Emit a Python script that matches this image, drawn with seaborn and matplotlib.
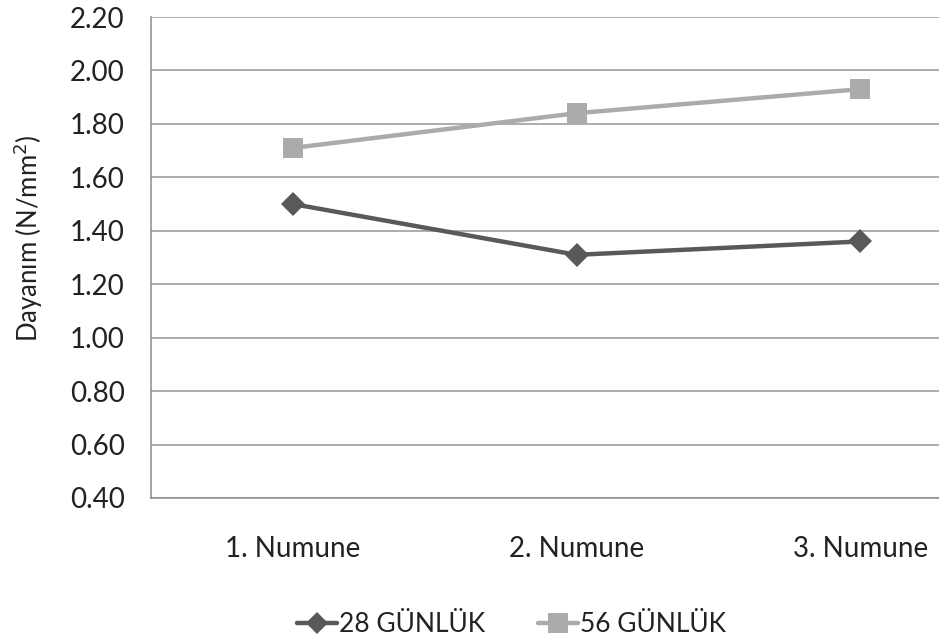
import matplotlib
matplotlib.use("Agg")
import matplotlib.pyplot as plt
import seaborn as sns
import pandas as pd
from matplotlib.lines import Line2D

categories = ["1. Numune", "2. Numune", "3. Numune"]
series_names = ["28 GÜNLÜK", "56 GÜNLÜK"]
values_28 = [1.50, 1.31, 1.36]
values_56 = [1.71, 1.84, 1.93]
y_ticks = [0.40, 0.60, 0.80, 1.00, 1.20, 1.40, 1.60, 1.80, 2.00, 2.20]

df = pd.DataFrame({
    "Numune": categories * 2,
    "Dayanım": values_28 + values_56,
    "Seri": [series_names[0]] * 3 + [series_names[1]] * 3,
})
df["x"] = [0, 1, 2] * 2

sns.set_theme(style="white")
plt.rcParams["font.family"] = ["Lato", "DejaVu Sans"]

fig = plt.figure(figsize=(9.39, 6.42), dpi=100)
ax = fig.add_axes([151 / 939, 1 - 498 / 642, 851 / 939, (498 - 17) / 642])

c28, c56 = "#595959", "#ABABAB"
palette = {series_names[0]: c28, series_names[1]: c56}
sns.lineplot(data=df, x="x", y="Dayanım", hue="Seri", style="Seri",
             markers={series_names[0]: "D", series_names[1]: "s"},
             dashes=False, palette=palette, linewidth=3.2,
             markeredgewidth=0, ax=ax, legend=False)
for line in ax.get_lines():
    if line.get_marker() == "s":
        line.set_markersize(14.5)
    else:
        line.set_markersize(12)

ax.set_xlim(-0.5, 2.5)
ax.set_ylim(0.40, 2.20)
ax.set_yticks(y_ticks)
ax.set_yticklabels([f"{v:.2f}" for v in y_ticks])
ax.set_xticks([0, 1, 2])
ax.set_xticklabels(categories)
ax.yaxis.grid(True, color="#A6A6A6", linewidth=1.3)
ax.set_axisbelow(True)
for s in ["top", "right"]:
    ax.spines[s].set_visible(False)
for s in ["left", "bottom"]:
    ax.spines[s].set_color("#8C8C8C")
    ax.spines[s].set_linewidth(1.1)
ax.tick_params(axis="y", direction="out", length=7, width=1, color="#8C8C8C",
               labelsize=20, labelcolor="#222222", pad=12)
ax.tick_params(axis="x", direction="inout", length=11, width=1, color="#8C8C8C",
               labelsize=20, labelcolor="#222222", pad=22)
ax.set_xlabel("")
ax.set_ylabel("Dayanım (N/mm$^2$)", fontsize=18.5, color="#222222", va="center")
ax.yaxis.set_label_coords((28 - 151) / 851, (498 - 238) / 481)

handles = [
    Line2D([], [], color=c28, lw=3.2, marker="D", markersize=11, markeredgewidth=0),
    Line2D([], [], color=c56, lw=3.2, marker="s", markersize=14, markeredgewidth=0),
]
fig.legend(handles, series_names, loc="center", bbox_to_anchor=(0.545, 1 - 625 / 642),
           ncol=2, frameon=False, fontsize=19, handlelength=1.5, handletextpad=0.1,
           columnspacing=2.0, labelcolor="#222222")

fig.savefig("out.png", dpi=100)
